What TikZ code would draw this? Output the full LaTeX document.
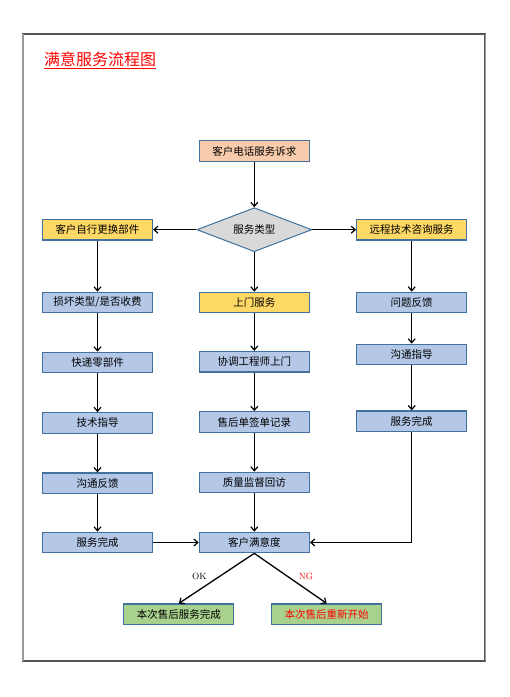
\documentclass[tikz,border=0pt]{standalone}
\usepackage{fontspec}
\newfontfamily\cjk{Noto Sans CJK SC}
\usetikzlibrary{arrows.meta,shapes.geometric}
\definecolor{bordblue}{HTML}{41719C}
\definecolor{fillblue}{HTML}{B4C7E7}
\definecolor{fillyellow}{HTML}{FFD966}
\definecolor{fillpeach}{HTML}{F8CBAD}
\definecolor{fillgreen}{HTML}{A9D18E}
\definecolor{fillgray}{HTML}{D9D9D9}
\definecolor{framedark}{HTML}{555555}
\definecolor{framelight}{HTML}{999999}
\definecolor{titlered}{HTML}{FF0000}
\tikzset{
  box/.style={draw=bordblue, line width=1.2pt, minimum width=110pt, minimum height=20.5pt,
    inner sep=0pt, font=\cjk\fontsize{10.5pt}{12pt}\selectfont, text=black},
  bluebox/.style={box, fill=fillblue},
  yellowbox/.style={box, fill=fillyellow},
  peachbox/.style={box, fill=fillpeach},
  greenbox/.style={box, fill=fillgreen},
  decision/.style={diamond, draw=bordblue, line width=1pt, fill=fillgray, aspect=2.6,
    minimum width=115pt, minimum height=44pt, inner sep=0pt, font=\cjk\fontsize{10.5pt}{12pt}\selectfont},
  flow/.style={draw=black, line width=1.3pt, -{Straight Barb[length=4pt,width=7pt,line width=1.2pt]}},
  lbl/.style={font=\fontsize{9pt}{10pt}\selectfont, inner sep=0pt}
}
\begin{document}
\begin{tikzpicture}[x=1pt,y=-1pt]
\useasboundingbox (0,0) rectangle (510,697);
% frame
\draw[framedark, line width=1.5pt] (23,34) rectangle (485,661);
\draw[framelight, line width=1.5pt] (23,34) -- (23,661);
\draw[framelight, line width=1pt] (485.5,34) -- (485.5,661);
% title
\node[anchor=west, text=titlered, font=\cjk\fontsize{16pt}{18pt}\selectfont, inner sep=0pt] (title) at (44,60) {\underline{满意服务流程图}};
% nodes
\node[peachbox] (req) at (254.3,151) {客户电话服务诉求};
\node[decision] (type) at (254.3,229.7) {服务类型};
\node[yellowbox] (self) at (97.5,229.7) {客户自行更换部件};
\node[yellowbox] (remote) at (411.7,229.7) {远程技术咨询服务};
\node[bluebox] (damage) at (97.5,302.5) {损坏类型/是否收费};
\node[yellowbox] (door) at (254.3,302.5) {上门服务};
\node[bluebox] (fb) at (411.7,302.5) {问题反馈};
\node[bluebox] (express) at (97.5,362.5) {快递零部件};
\node[bluebox] (coord) at (254.3,361.7) {协调工程师上门};
\node[bluebox] (guide) at (411.7,354.5) {沟通指导};
\node[bluebox] (tech) at (97.5,423) {技术指导};
\node[bluebox] (ticket) at (254.3,422) {售后单签单记录};
\node[bluebox] (doneR) at (411.7,421.2) {服务完成};
\node[bluebox] (comm) at (97.5,483.2) {沟通反馈};
\node[bluebox] (quality) at (254.3,482.5) {质量监督回访};
\node[bluebox] (doneL) at (97.5,542.5) {服务完成};
\node[bluebox] (sat) at (254.3,542.5) {客户满意度};
\node[greenbox] (ok) at (178.8,614.3) {本次售后服务完成};
\node[greenbox, text=titlered] (ng) at (326.7,614.3) {本次售后重新开始};
% connectors
\draw[flow] (req) -- (type);
\draw[flow] (type.west) -- (self.east);
\draw[flow] (type.east) -- (remote.west);
\draw[flow] (type.south) -- (door.north);
\draw[flow] (self) -- (damage);
\draw[flow] (damage) -- (express);
\draw[flow] (express) -- (tech);
\draw[flow] (tech) -- (comm);
\draw[flow] (comm) -- (doneL);
\draw[flow] (door) -- (coord);
\draw[flow] (coord) -- (ticket);
\draw[flow] (ticket) -- (quality);
\draw[flow] (quality) -- (sat);
\draw[flow] (remote) -- (fb);
\draw[flow] (fb) -- (guide);
\draw[flow] (guide) -- (doneR);
\draw[flow] (doneR.south) |- (sat.east);
\draw[flow] (doneL) -- (sat);
\draw[flow] (sat.south) -- (ok.north);
\draw[flow] (sat.south) -- (ng.north);
\node[lbl] (oklbl) at (199.3,576) {OK};
\node[lbl, text=titlered] (nglbl) at (306,576) {NG};
\end{tikzpicture}
\end{document}
